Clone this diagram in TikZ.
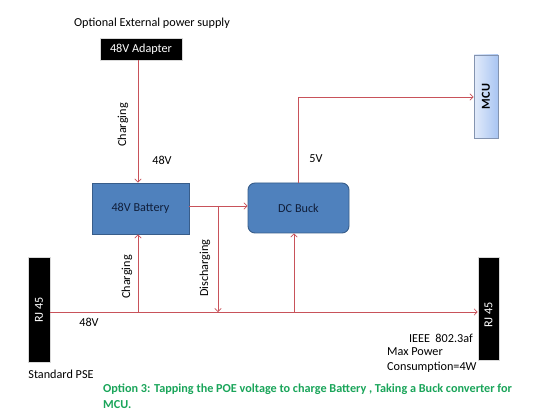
\documentclass[tikz,border=0pt]{standalone}
\usepackage{fontspec}
\setmainfont{Carlito}
\usetikzlibrary{arrows.meta,shadows}
\definecolor{wire}{HTML}{C8525A}
\definecolor{boxblue}{HTML}{4F81BD}
\definecolor{boxedge}{HTML}{385D8A}
\definecolor{boxtext}{HTML}{101E3A}
\definecolor{optgreen}{HTML}{1AA55A}
\definecolor{mcuL}{HTML}{E2EBFA}
\definecolor{mcuR}{HTML}{A9C5F2}
\definecolor{mcuedge}{HTML}{8494B0}
\begin{document}
\begin{tikzpicture}[x=1pt,y=-1pt,
  every node/.style={font=\fontsize{12.2}{14}\selectfont, inner sep=0pt},
  wireline/.style={draw=wire, line width=0.7pt},
  arr/.style={wireline, -{Straight Barb[length=3.2pt,width=6.5pt]}},
  blackbox/.style={fill=black, draw=black!15, line width=0.6pt, text=white},
  bluebox/.style={fill=boxblue, draw=boxedge, line width=0.9pt, text=boxtext},
  lbl/.style={text=black}]
\useasboundingbox (0,0) rectangle (550,412);
\fill[white] (0,0) rectangle (550,412);

% nodes
\node[lbl] (opt) at (152,23) {Optional External power supply};
\node[blackbox, minimum width=82pt, minimum height=22pt] (adapter) at (141,49) {48V Adapter};
\node[bluebox, minimum width=97pt, minimum height=51pt] (battery) at (140.5,208.5) {48V Battery};
\node[bluebox, rounded corners=7pt, minimum width=101pt, minimum height=50pt] (buck) at (298.5,208) {DC Buck};
\node[draw=mcuedge, line width=0.8pt, left color=mcuL, right color=mcuR, minimum width=24pt, minimum height=83pt] (mcu) at (486,96.5) {};
\node[rotate=90, font=\fontsize{12.2}{14}\selectfont\bfseries] (mcutext) at (mcu.center) {MCU};
\node[blackbox, minimum width=22pt, minimum height=105pt] (rjl) at (39,309.5) {};
\node[rotate=90, text=white] (rjltext) at (39,310) {RJ 45};
\node[blackbox, minimum width=21pt, minimum height=103pt] (rjr) at (488.5,308.5) {};
\node[rotate=90, text=white] (rjrtext) at (488.5,315) {RJ 45};

% coordinates on wires
\coordinate (bus) at (0,312);
\coordinate (cj) at (138,312);
\coordinate (dj) at (218,206);
\coordinate (bj) at (294,312);
\coordinate (fivev) at (298,97);

% connectors
\draw[arr] ([xshift=-3pt]adapter.south) -- ([xshift=-3pt]adapter.south |- battery.north);
\draw[arr] (rjl.east |- bus) -- (rjr.west |- bus);
\draw[arr] (cj) -- (cj |- battery.south);
\draw[arr] (battery.east |- dj) -- (buck.west |- dj);
\draw[arr] (dj) -- (dj |- bus);
\draw[arr] (bj) -- (bj |- buck.south);
\draw[arr] (fivev |- buck.north) -- (fivev) -- (mcu.west |- fivev);

% labels
\node[rotate=90] (chg1) at (123,125) {Charging};
\node (v48a) at (162,160) {48V};
\node (v5) at (316,159) {5V};
\node[rotate=90] (chg2) at (127,277) {Charging};
\node[rotate=90] (dis) at (205,268) {Discharging};
\node (v48b) at (89,322) {48V};
\node (pse) at (61,374) {Standard PSE};
\node[anchor=east] (ieee) at (473,338) {IEEE\ \ 802.3af};
\node[anchor=north west, align=left, font=\fontsize{12.2}{15}\selectfont] (maxp) at (387,347) {Max Power\\Consumption=4W};
\node[anchor=north west, align=left, text=optgreen, font=\fontsize{12.2}{16}\selectfont\bfseries] (option) at (103,384) {Option 3: Tapping\ the POE voltage to charge Battery , Taking\ a Buck converter\ for\\MCU.};
\end{tikzpicture}
\end{document}
